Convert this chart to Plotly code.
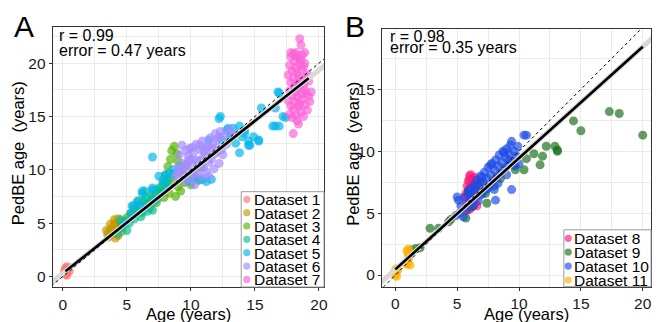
import numpy as np
import plotly.graph_objects as go

W, H = 661, 322

# ---------------- Panel A data ----------------
names_a = ["Dataset 1", "Dataset 2", "Dataset 3", "Dataset 4", "Dataset 5", "Dataset 6", "Dataset 7"]
colors_a = ["#F8766D", "#C49A00", "#53B400", "#00C094", "#00B6EB", "#A58AFF", "#FB61D7"]

d1_age = [0.1, 0.2, 0.3, 0.4, 0.25, 0.5, 0.15, 0.35, 0.3, 0.2]
d1_pedbe = [0.3, 0.6, 0.4, 0.7, 0.2, 0.5, 0.5, 0.9, 0.1, 0.8]

d2_age = [3.5, 3.6, 3.8, 3.9, 4.0, 4.1, 4.2, 4.3, 4.4, 4.5, 3.7, 4.0, 4.6, 4.2, 3.9, 4.8, 4.3, 3.6, 4.1, 3.4]
d2_pedbe = [3.9, 4.2, 4.5, 4.0, 4.8, 5.0, 4.3, 3.8, 5.2, 4.6, 4.9, 5.3, 4.2, 4.7, 4.4, 4.9, 5.4, 3.7, 3.6, 4.3]

d3_age = [4.6, 5.0, 5.3, 5.6, 6.0, 6.5, 7.0, 7.3, 7.6, 7.8, 8.0, 8.2, 8.4, 8.5, 8.7, 8.9, 8.3, 8.8,
          9.0, 9.2, 9.5, 9.8, 10.2, 10.6, 9.3, 8.6, 7.9, 9.6, 8.1, 10.0, 10.8, 9.0, 7.2, 6.8]
d3_pedbe = [4.8, 5.5, 5.9, 6.3, 6.0, 6.8, 7.2, 6.9, 8.0, 8.6, 9.5, 10.3, 11.0, 11.8, 12.2, 11.5, 7.8, 7.5,
            8.4, 8.0, 8.8, 9.0, 9.2, 9.0, 9.6, 9.0, 7.4, 10.4, 8.8, 8.6, 10.2, 10.8, 7.6, 6.4]

d4_age = [4.3, 4.6, 4.9, 5.2, 5.4, 5.6, 5.8, 6.0, 6.2, 6.3, 6.5, 6.7, 6.9, 7.1, 7.3, 7.5, 7.7, 7.9,
          8.1, 8.3, 6.1, 5.5, 7.0, 6.6, 8.6, 5.0, 4.5, 6.4, 7.4, 5.9]
d4_pedbe = [4.0, 4.6, 5.2, 5.0, 5.8, 5.4, 6.1, 6.6, 6.0, 7.1, 7.4, 6.8, 7.6, 7.0, 8.1, 8.3, 7.8, 8.8,
            8.5, 9.2, 5.6, 6.6, 6.2, 6.1, 9.6, 4.3, 5.3, 8.0, 7.3, 7.1]

d5_age = [5.3, 5.4, 6.0, 6.2, 6.2, 7.0, 7.0, 7.0, 7.2, 7.5, 8.0, 8.1, 8.3, 9.1, 10.6, 10.9, 11.2, 11.4,
          11.6, 12.2, 12.3, 12.4, 12.8, 12.9, 13.1, 13.2, 13.3, 13.5, 13.8, 13.8, 14.0, 14.2, 14.2, 14.5,
          14.5, 14.6, 14.9, 15.3, 15.3, 15.5, 16.4, 16.6, 16.6, 16.9, 16.9, 17.2, 17.4, 16.8, 6.5, 5.8,
          4.8, 7.8, 8.6, 9.5, 10.2, 10.0]
d5_pedbe = [5.9, 6.6, 6.6, 7.8, 8.0, 8.1, 8.3, 11.2, 7.2, 9.4, 9.5, 8.4, 9.7, 10.3, 9.1, 9.1, 8.9, 12.8,
            9.1, 14.8, 15.0, 12.8, 13.7, 13.9, 13.1, 13.1, 13.9, 12.5, 14.1, 11.6, 13.1, 13.4, 13.7, 12.7,
            12.3, 12.3, 13.1, 12.7, 12.8, 15.8, 14.1, 14.1, 15.8, 14.1, 17.2, 15.0, 14.9, 17.3, 6.5, 7.0,
            5.0, 9.0, 10.0, 9.4, 9.5, 8.9]

d6_age = [9.0, 9.1, 9.2, 9.3, 9.4, 9.5, 9.6, 9.7, 9.8, 9.9, 10.0, 10.1, 10.2, 10.3, 10.4, 10.5, 10.6,
          10.7, 10.8, 10.9, 11.0, 11.1, 11.2, 11.3, 11.4, 11.5, 11.6, 11.7, 11.8, 11.9, 12.0, 12.1, 12.2,
          12.3, 12.4, 12.6, 12.8, 13.0, 13.2, 9.5, 10.0, 10.5, 11.0, 11.5, 10.2, 10.8, 9.8, 11.2, 10.4,
          12.0, 9.3, 10.7, 11.4, 12.5, 10.9, 9.7, 11.9, 10.1, 11.6, 12.2, 8.8, 9.0]
d6_pedbe = [10.2, 11.4, 9.3, 12.3, 10.6, 8.9, 11.8, 9.8, 10.9, 12.0, 9.1, 10.4, 11.6, 8.6, 12.4, 9.7, 10.8,
            11.9, 9.3, 12.7, 10.2, 11.3, 9.8, 12.2, 10.7, 13.0, 11.0, 12.5, 10.1, 13.4, 11.7, 12.9, 10.6,
            13.6, 11.9, 13.2, 12.4, 13.8, 13.5, 10.0, 11.0, 10.2, 11.8, 11.3, 9.6, 10.5, 11.3, 12.0, 10.9,
            12.1, 9.7, 12.3, 9.4, 11.4, 11.1, 10.5, 11.5, 12.1, 12.0, 13.1, 9.4, 9.9]

d7_age = [17.6, 17.6, 17.7, 17.7, 17.7, 17.8, 17.8, 17.8, 17.9, 17.9, 17.9, 18.0, 18.0, 18.0, 18.0, 18.1,
          18.1, 18.1, 18.2, 18.2, 18.2, 18.2, 18.3, 18.3, 18.3, 18.3, 18.4, 18.4, 18.4, 18.4, 18.5, 18.5,
          18.5, 18.5, 18.6, 18.6, 18.6, 18.6, 18.7, 18.7, 18.7, 18.7, 18.8, 18.8, 18.8, 18.9, 18.9, 18.9,
          19.0, 19.0, 19.1, 19.1, 19.2, 19.2, 19.4, 19.3, 17.8, 18.2, 18.9, 18.4]
d7_pedbe = [16.5, 18.9, 15.2, 19.8, 17.4, 20.6, 16.0, 18.2, 14.9, 19.3, 17.0, 20.9, 13.4, 15.7, 18.6, 17.8,
            20.2, 16.4, 19.6, 15.1, 17.3, 21.0, 18.1, 16.8, 19.1, 14.6, 20.5, 17.6, 15.9, 18.8, 22.3, 19.9,
            16.2, 17.9, 21.7, 15.4, 18.4, 20.3, 17.1, 19.4, 16.6, 20.8, 18.0, 15.0, 19.7, 17.5, 16.1, 20.0,
            18.7, 17.2, 15.6, 19.0, 16.9, 18.3, 17.3, 16.4, 21.0, 20.7, 21.0, 14.3]

fit_a = {"slope": 0.954, "intercept": 0.28, "age_min": 0.2, "age_max": 19.2}
stats_a = ["r = 0.99", "error = 0.47 years"]

# ---------------- Panel B data ----------------
names_b = ["Dataset 8", "Dataset 9", "Dataset 10", "Dataset 11"]
colors_b = ["#FF1A75", "#17701A", "#1E4BE6", "#FFB000"]

d8_age = [5.7, 5.7, 5.8, 5.8, 5.8, 5.9, 5.9, 5.9, 6.0, 6.0, 6.0, 6.0, 6.1, 6.1, 6.1, 6.1, 6.2, 6.2, 6.2,
          6.2, 6.3, 6.3, 6.3, 6.4, 6.4, 6.4, 6.5, 6.5, 6.6, 6.6, 5.6, 5.9, 6.0, 6.2, 6.7, 6.8]
d8_pedbe = [5.5, 6.6, 7.2, 6.0, 5.2, 7.6, 6.4, 5.7, 8.0, 6.9, 6.1, 5.3, 7.4, 6.6, 5.8, 8.1, 7.0, 6.3, 5.5,
            7.8, 6.8, 6.0, 7.3, 6.5, 5.7, 7.9, 7.1, 6.2, 6.8, 5.6, 6.2, 6.9, 7.7, 6.7, 7.4, 7.5]

d9_age = [1.3, 1.65, 2.0, 2.8, 3.5, 4.3, 5.7, 7.4, 7.3, 7.0, 8.5, 10.4, 10.6, 11.2, 11.7, 11.9, 12.2,
          12.9, 13.1, 14.4, 15.0, 17.3, 18.1, 20.0, 5.9, 6.1, 6.9, 9.7, 9.6, 13.1, 8.0, 4.5]
d9_pedbe = [2.0, 2.15, 2.2, 3.77, 3.77, 4.3, 4.6, 5.8, 6.6, 6.6, 7.8, 8.5, 9.4, 9.8, 8.9, 9.6, 10.4,
            10.4, 10.0, 12.45, 11.65, 13.2, 13.05, 11.3, 6.65, 5.5, 7.5, 8.5, 8.9, 10.1, 7.2, 4.5]

d10_age = [4.9, 5.1, 5.2, 5.3, 5.5, 5.6, 5.8, 5.9, 6.0, 6.1, 6.2, 6.3, 6.4, 6.5, 6.6, 6.7, 6.8, 6.9, 7.0,
           7.1, 7.2, 7.3, 7.4, 7.5, 7.6, 7.7, 7.8, 7.9, 8.0, 8.0, 8.1, 8.1, 8.2, 8.3, 8.4, 8.5, 8.6, 8.7,
           8.8, 8.9, 9.0, 9.1, 9.2, 9.3, 9.4, 9.4, 9.5, 9.6, 9.7, 9.8, 9.9, 10.0, 10.4, 10.6, 7.0, 7.5,
           8.3, 6.0, 8.8, 9.2, 7.7, 6.5, 9.0, 5.0]
d10_pedbe = [4.8, 6.05, 5.0, 5.6, 4.7, 6.3, 5.3, 6.8, 5.9, 7.0, 6.2, 5.6, 7.3, 6.6, 7.7, 6.0, 7.1, 8.0, 6.5,
             7.5, 8.3, 6.9, 7.8, 8.7, 7.2, 8.1, 9.0, 7.6, 8.5, 6.9, 6.05, 9.3, 7.9, 8.8, 9.7, 8.2, 9.1, 10.0,
             8.6, 9.5, 10.2, 8.9, 9.8, 10.5, 6.9, 10.8, 9.2, 10.0, 8.8, 9.6, 10.4, 9.0, 11.3, 11.3, 7.9, 7.0,
             7.4, 6.6, 9.9, 9.3, 8.9, 7.1, 8.1, 6.3]

d11_age = [0.0, 0.05, 0.1, 0.0, 0.1, 1.0, 1.0, 1.05, 1.1, 0.95, 1.0, 1.2, 0.2, 1.1, 0.85, 0.0]
d11_pedbe = [0.0, 0.3, 0.5, 0.2, -0.1, 1.0, 0.9, 1.3, 1.6, 2.0, 1.8, 0.8, 0.4, 2.1, 0.9, 0.4]

fit_b = {"slope": 0.899, "intercept": 0.46, "age_min": 0.0, "age_max": 20.0}
stats_b = ["r = 0.98", "error = 0.35 years"]

series_a = [(d1_age, d1_pedbe), (d2_age, d2_pedbe), (d3_age, d3_pedbe), (d4_age, d4_pedbe),
            (d5_age, d5_pedbe), (d6_age, d6_pedbe), (d7_age, d7_pedbe)]
series_b = [(d8_age, d8_pedbe), (d9_age, d9_pedbe), (d10_age, d10_pedbe), (d11_age, d11_pedbe)]

# ---------------- layout geometry (pixels) ----------------
FONT = "Liberation Sans, Arial, Helvetica, sans-serif"
A_box = dict(l=53, r=326, t=27, b=287, xr=[-0.8, 20.4], yr=[-1.0, 23.4])
B_box = dict(l=384.3, r=655, t=29, b=286.7, xr=[-1.08, 20.67], yr=[-0.94, 19.87])


def px(x):
    return x / W


def py(y):
    return 1 - y / H


fig = go.Figure()


def add_panel(series, names, colors, fit, xa, ya):
    for (ax, ay), nm, col in zip(series, names, colors):
        fig.add_trace(go.Scatter(x=ax, y=ay, mode="markers", name=nm, showlegend=False,
                                 xaxis=xa, yaxis=ya,
                                 marker=dict(size=9, color=col, opacity=0.68, line=dict(width=0))))
    # full-range confidence band (light grey)
    xf = np.array([-2.0, 22.0])
    fig.add_trace(go.Scatter(x=xf, y=fit["intercept"] + fit["slope"] * xf, mode="lines",
                             line=dict(color="#d9d9d9", width=5), showlegend=False,
                             xaxis=xa, yaxis=ya, hoverinfo="skip"))
    # identity line
    fig.add_trace(go.Scatter(x=[-2, 22], y=[-2, 22], mode="lines",
                             line=dict(color="black", width=1, dash="3px,3px"), showlegend=False,
                             xaxis=xa, yaxis=ya, hoverinfo="skip"))
    xs = np.array([fit["age_min"], fit["age_max"]])
    fig.add_trace(go.Scatter(x=xs, y=fit["intercept"] + fit["slope"] * xs, mode="lines",
                             line=dict(color="black", width=2.6), showlegend=False,
                             xaxis=xa, yaxis=ya, hoverinfo="skip"))


add_panel(series_a, names_a, colors_a, fit_a, "x", "y")
add_panel(series_b, names_b, colors_b, fit_b, "x2", "y2")


def axis(domain, rng, tickvals, anchor):
    return dict(domain=domain, range=rng, anchor=anchor, tickvals=tickvals,
                ticktext=[str(v) for v in tickvals],
                showgrid=True, gridcolor="#ebebeb", gridwidth=1.4,
                minor=dict(tick0=2.5, dtick=5, showgrid=True, gridcolor="#ebebeb", gridwidth=0.8),
                zeroline=False, showline=True, mirror=True, linecolor="#333333", linewidth=1,
                ticks="outside", ticklen=3, tickwidth=1, tickcolor="#333333",
                tickfont=dict(family=FONT, size=15.5, color="#1a1a1a"))


xticks = [0, 5, 10, 15, 20]
fig.update_layout(
    width=W, height=H, margin=dict(l=0, r=0, t=0, b=0),
    paper_bgcolor="white", plot_bgcolor="white", showlegend=False,
    font=dict(family=FONT, color="black"),
    xaxis=axis([px(A_box["l"]), px(A_box["r"])], A_box["xr"], xticks, "y"),
    yaxis=axis([py(A_box["b"]), py(A_box["t"])], A_box["yr"], [0, 5, 10, 15, 20], "x"),
    xaxis2=axis([px(B_box["l"]), px(B_box["r"])], B_box["xr"], xticks, "y2"),
    yaxis2=axis([py(B_box["b"]), py(B_box["t"])], B_box["yr"], [0, 5, 10, 15], "x2"),
)

ann = []
shapes = []


def text(x, y, s, size, xanchor="center", angle=0, color="black"):
    ann.append(dict(x=px(x), y=py(y), xref="paper", yref="paper", text=s, showarrow=False,
                    xanchor=xanchor, yanchor="middle", textangle=angle,
                    font=dict(family=FONT, size=size, color=color)))


# panel letters
text(24, 26, "A", 30)
text(357, 26, "B", 30)
# axis titles
text(189.5, 313.5, "Age (years)", 16.5)
text(530, 313.5, "Age (years)", 16.5)
text(18.8, 153.5, "PedBE age\u00a0 (years)", 16.5, angle=-90)
text(355, 154, "PedBE age\u00a0 (years)", 16.5, angle=-90)
# statistics
text(57.5, 35.5, stats_a[0], 16, "left")
text(57.5, 50.8, stats_a[1], 16, "left")
text(390.5, 36.5, stats_b[0], 16, "left")
text(390.5, 47.5, stats_b[1], 16, "left")


def legend(names, colors, left, top, right, bottom, first_y, step, mx, tx):
    shapes.append(dict(type="rect", xref="paper", yref="paper", layer="above",
                       x0=px(left), x1=px(right), y0=py(bottom), y1=py(top),
                       fillcolor="white", line=dict(color="#9a9a9a", width=1)))
    r = 3.6
    for i, (nm, col) in enumerate(zip(names, colors)):
        yc = first_y + i * step
        shapes.append(dict(type="circle", xref="paper", yref="paper", layer="above",
                           x0=px(mx - r), x1=px(mx + r), y0=py(yc + r), y1=py(yc - r),
                           fillcolor=col, opacity=0.65, line=dict(width=0)))
        text(tx, yc + 0.5, nm, 15.5, "left")


legend(names_a, colors_a, 242.7, 191.7, 326, 287, 199.3, 13.35, 248.3, 253.5)
legend(names_b, colors_b, 567.3, 229.8, 655, 286.7, 238.3, 13.9, 571.7, 575.5)

fig.update_layout(annotations=ann, shapes=shapes)
fig.write_html("out.html", config={"displayModeBar": False},
               post_script="document.body.style.margin='0';document.body.style.padding='0';")
